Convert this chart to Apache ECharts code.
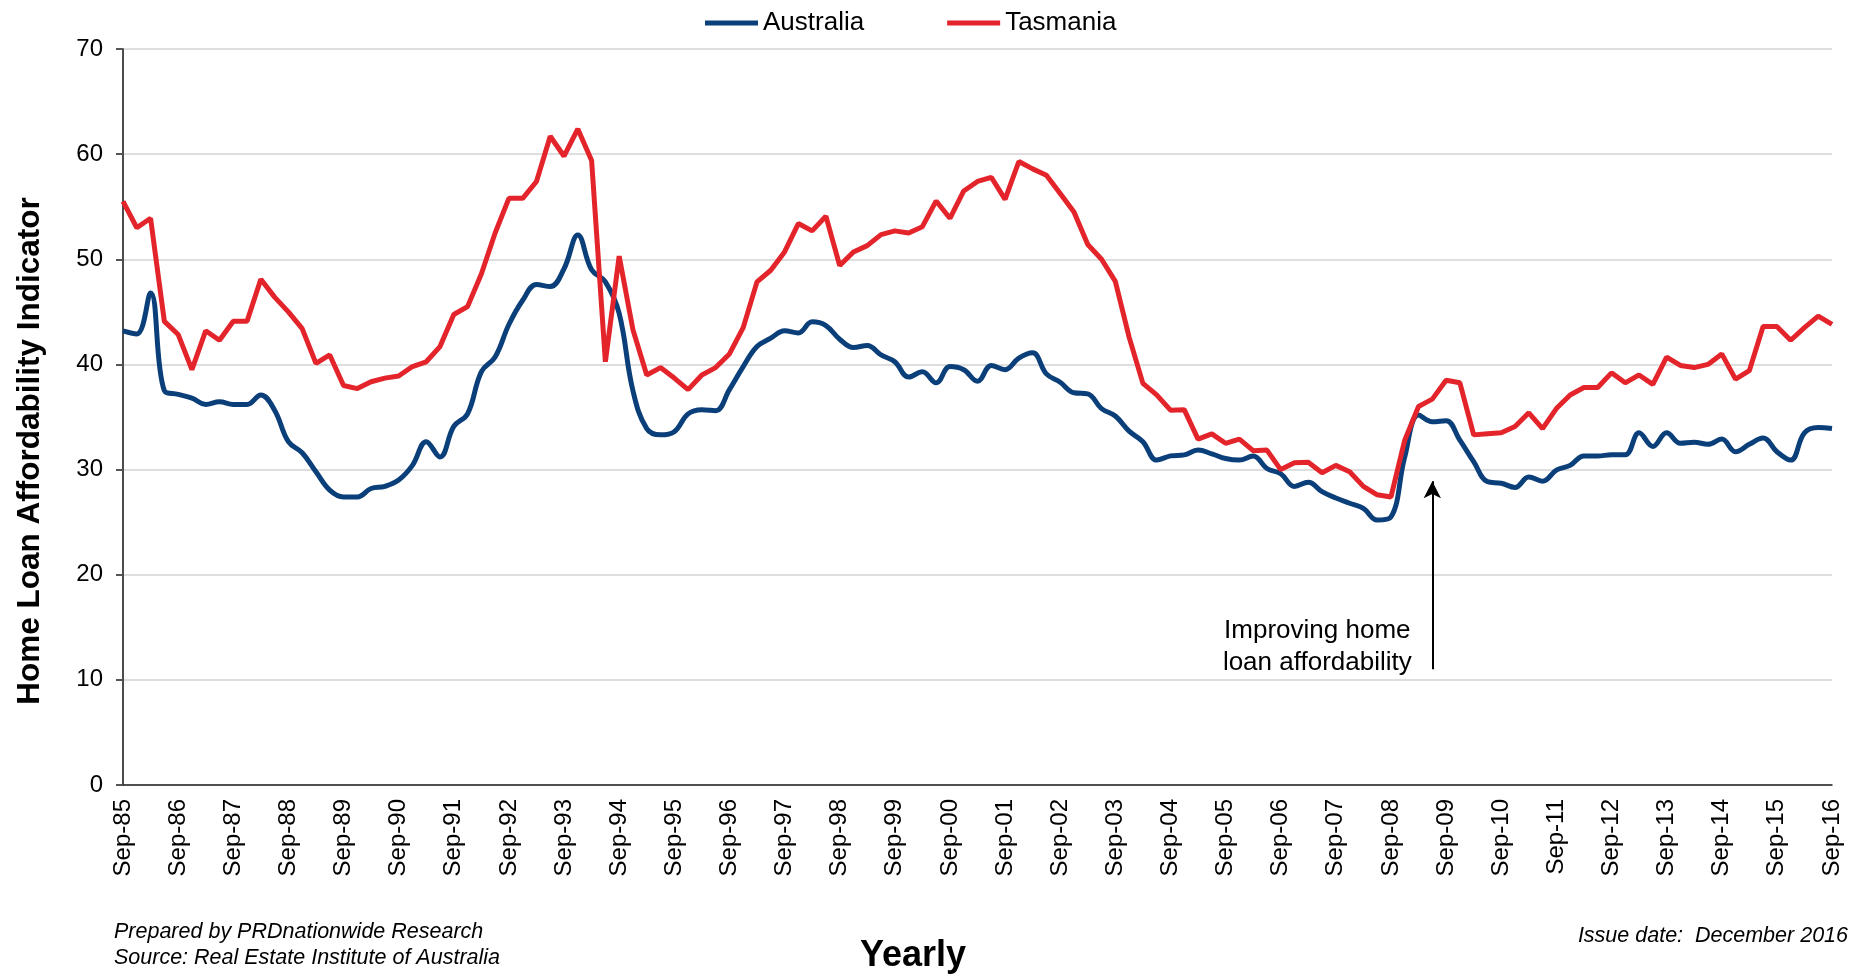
<!DOCTYPE html>
<html>
<head>
<meta charset="utf-8">
<script src="https://cdn.jsdelivr.net/npm/echarts@6/dist/echarts.min.js"></script>
<style>
html,body{margin:0;padding:0;background:#fff;}
#chart{width:1862px;height:977px;}
</style>
</head>
<body>
<div id="chart"></div>
<script>
const categories = [
'Sep-85','Dec-85','Mar-86','Jun-86','Sep-86','Dec-86','Mar-87','Jun-87','Sep-87','Dec-87','Mar-88','Jun-88',
'Sep-88','Dec-88','Mar-89','Jun-89','Sep-89','Dec-89','Mar-90','Jun-90','Sep-90','Dec-90','Mar-91','Jun-91',
'Sep-91','Dec-91','Mar-92','Jun-92','Sep-92','Dec-92','Mar-93','Jun-93','Sep-93','Dec-93','Mar-94','Jun-94',
'Sep-94','Dec-94','Mar-95','Jun-95','Sep-95','Dec-95','Mar-96','Jun-96','Sep-96','Dec-96','Mar-97','Jun-97',
'Sep-97','Dec-97','Mar-98','Jun-98','Sep-98','Dec-98','Mar-99','Jun-99','Sep-99','Dec-99','Mar-00','Jun-00',
'Sep-00','Dec-00','Mar-01','Jun-01','Sep-01','Dec-01','Mar-02','Jun-02','Sep-02','Dec-02','Mar-03','Jun-03',
'Sep-03','Dec-03','Mar-04','Jun-04','Sep-04','Dec-04','Mar-05','Jun-05','Sep-05','Dec-05','Mar-06','Jun-06',
'Sep-06','Dec-06','Mar-07','Jun-07','Sep-07','Dec-07','Mar-08','Jun-08','Sep-08','Dec-08','Mar-09','Jun-09',
'Sep-09','Dec-09','Mar-10','Jun-10','Sep-10','Dec-10','Mar-11','Jun-11','Sep-11','Dec-11','Mar-12','Jun-12',
'Sep-12','Dec-12','Mar-13','Jun-13','Sep-13','Dec-13','Mar-14','Jun-14','Sep-14','Dec-14','Mar-15','Jun-15',
'Sep-15','Dec-15','Mar-16','Jun-16','Sep-16'
];

const australia = [
43.2,42.9,46.8,37.5,37.15,36.8,36.2,36.45,36.2,36.2,37.1,35.65,
32.65,31.6,29.8,28.05,27.4,27.4,28.2,28.4,29.0,30.4,32.65,31.2,
34.1,35.3,39.3,40.7,43.8,46.1,47.6,47.4,49.1,52.3,49.0,47.85,
44.85,37.5,33.9,33.3,33.6,35.3,35.7,35.6,37.6,39.8,41.7,42.5,
43.2,43.0,44.05,43.7,42.4,41.6,41.8,40.9,40.25,38.8,39.3,38.25,
39.8,39.5,38.4,39.9,39.5,40.6,41.1,39.1,38.3,37.3,37.2,35.8,
35.1,33.65,32.65,30.9,31.3,31.4,31.85,31.5,31.05,30.9,31.3,30.1,
29.6,28.4,28.8,27.9,27.3,26.8,26.3,25.2,25.5,31.2,35.2,34.55,
34.65,32.8,30.75,28.85,28.7,28.3,29.3,28.9,29.95,30.4,31.3,31.3,
31.4,31.4,33.5,32.2,33.5,32.5,32.6,32.4,32.9,31.7,32.4,33.0,
31.7,30.9,33.5,34.0,33.9
];

const tasmania = [
55.5,53.0,53.9,44.1,42.85,39.5,43.2,42.3,44.1,44.1,48.1,46.4,
45.0,43.4,40.1,40.9,38.0,37.7,38.35,38.7,38.9,39.8,40.25,41.7,
44.75,45.5,48.6,52.5,55.8,55.8,57.4,61.7,59.8,62.4,59.4,40.25,
50.3,43.3,39.0,39.7,38.7,37.6,39.0,39.7,41.0,43.5,47.85,48.96,
50.7,53.4,52.7,54.1,49.4,50.7,51.3,52.35,52.7,52.5,53.1,55.55,
53.9,56.5,57.4,57.8,55.7,59.3,58.6,58.0,56.25,54.5,51.4,50.0,
47.9,42.6,38.2,37.1,35.65,35.7,32.9,33.4,32.5,32.9,31.8,31.85,
30.0,30.65,30.7,29.7,30.4,29.8,28.4,27.6,27.4,32.8,36.0,36.7,
38.5,38.25,33.3,33.4,33.5,34.1,35.4,33.9,35.8,37.1,37.8,37.8,
39.2,38.25,39.0,38.1,40.7,39.9,39.7,40.0,41.0,38.6,39.4,43.6,
43.6,42.3,43.5,44.6,43.8
];

const seriesNames = ['Australia', 'Tasmania'];
const arrowCategory = 'Jun-09';
const arrowFromValue = 11.0;
const arrowToValue = 28.9;
const annotationText = 'Improving home\nloan affordability';

const FONT = '"Liberation Sans", Arial, sans-serif';
const chart = echarts.init(document.getElementById('chart'), null, {renderer: 'canvas'});

const option = {
  animation: false,
  backgroundColor: '#ffffff',
  color: ['#0b3f7a', '#e3242b'],
  textStyle: {fontFamily: FONT},
  legend: {
    data: seriesNames,
    left: 700,
    top: 5,
    icon: 'rect',
    itemWidth: 53,
    itemHeight: 5,
    itemGap: 83,
    textStyle: {fontSize: 26, color: '#000', fontFamily: FONT}
  },
  grid: {left: 123, right: 30, top: 49, bottom: 192, containLabel: false},
  xAxis: {
    type: 'category',
    data: categories,
    boundaryGap: false,
    axisLine: {show: true, lineStyle: {color: '#222', width: 1.5}},
    axisTick: {show: false},
    splitLine: {show: false},
    axisLabel: {
      interval: 3,
      rotate: 90,
      fontSize: 24,
      color: '#000',
      margin: 14,
      fontFamily: FONT
    }
  },
  yAxis: {
    type: 'value',
    min: 0,
    max: 70,
    interval: 10,
    axisLine: {show: true, lineStyle: {color: '#111', width: 1.5}},
    axisTick: {show: true, length: 7, lineStyle: {color: '#555', width: 2}},
    splitLine: {show: true, lineStyle: {color: '#d3d3d3', width: 1.5}},
    axisLabel: {fontSize: 24, color: '#000', margin: 20, fontFamily: FONT}
  },
  series: [
    {
      name: seriesNames[0],
      type: 'line',
      data: australia,
      smooth: 0.4,
      showSymbol: false,
      symbol: 'none',
      lineStyle: {width: 5, color: '#0b3f7a'},
      z: 2
    },
    {
      name: seriesNames[1],
      type: 'line',
      data: tasmania,
      smooth: false,
      showSymbol: false,
      symbol: 'none',
      lineStyle: {width: 5, color: '#e3242b'},
      z: 3,
      markLine: {
        silent: true,
        symbol: ['none', 'arrow'],
        symbolSize: [13, 17],
        lineStyle: {color: '#000', width: 2, type: 'solid'},
        label: {show: false},
        data: [[{coord: [arrowCategory, arrowFromValue]}, {coord: [arrowCategory, arrowToValue]}]]
      }
    }
  ]
};
chart.setOption(option);

const ap = chart.convertToPixel({xAxisIndex: 0, yAxisIndex: 0}, [arrowCategory, arrowFromValue]);
chart.setOption({
  graphic: [
    {
      type: 'text', x: 30, y: 451, rotation: Math.PI / 2,
      style: {text: 'Home Loan Affordability Indicator', font: 'bold 31.5px ' + FONT, fill: '#000',
              textAlign: 'center', textVerticalAlign: 'middle'}
    },
    {
      type: 'text', x: 913, y: 956,
      style: {text: 'Yearly', font: 'bold 36px ' + FONT, fill: '#000', textAlign: 'center', textVerticalAlign: 'middle'}
    },
    {
      type: 'text', x: 114, y: 932,
      style: {text: 'Prepared by PRDnationwide Research', font: 'italic 21.5px ' + FONT, fill: '#000', textAlign: 'left', textVerticalAlign: 'middle'}
    },
    {
      type: 'text', x: 114, y: 958,
      style: {text: 'Source: Real Estate Institute of Australia', font: 'italic 21.5px ' + FONT, fill: '#000', textAlign: 'left', textVerticalAlign: 'middle'}
    },
    {
      type: 'text', x: 1848, y: 936,
      style: {text: 'Issue date:  December 2016', font: 'italic 21.5px ' + FONT, fill: '#000', textAlign: 'right', textVerticalAlign: 'middle'}
    },
    {
      type: 'text', x: ap[0] - 115, y: 647,
      style: {text: annotationText, font: '26px ' + FONT, fill: '#000', textAlign: 'center', textVerticalAlign: 'middle', lineHeight: 32}
    }
  ]
});
</script>
</body>
</html>
